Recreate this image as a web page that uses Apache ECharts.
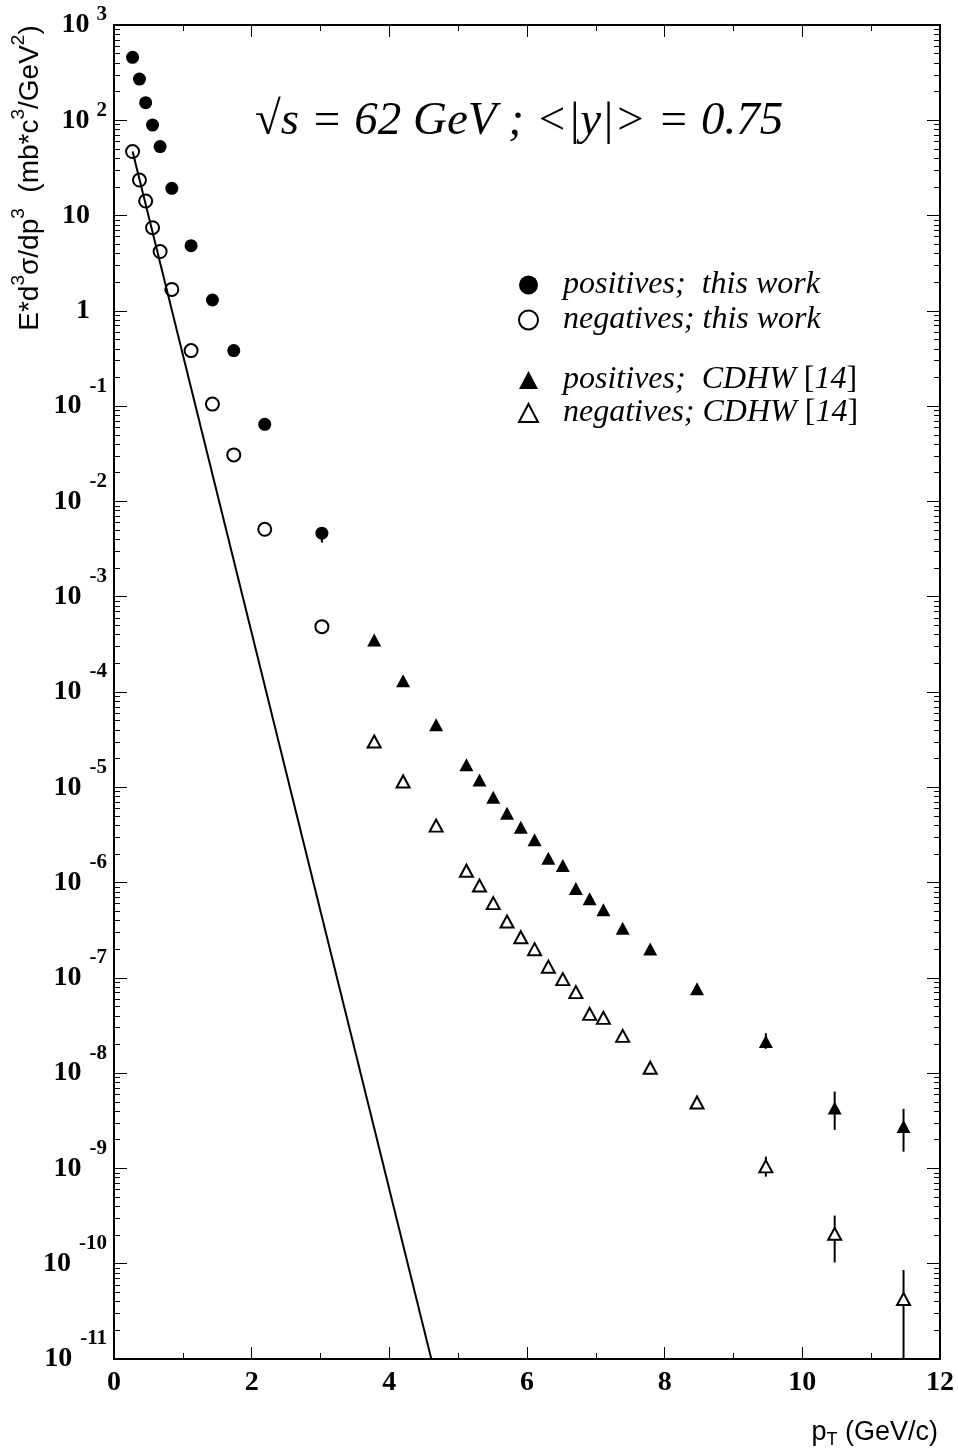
<!DOCTYPE html>
<html><head><meta charset="utf-8">
<script src="https://cdn.jsdelivr.net/npm/echarts@6/dist/echarts.min.js"></script>
<style>html,body{margin:0;padding:0;background:#fff}#c{width:958px;height:1453px}</style>
</head><body><div id="c"></div>
<script>
// ---- data ----
const ptThisWork  = [0.27, 0.37, 0.46, 0.56, 0.67, 0.84, 1.12, 1.43, 1.74, 2.19, 3.02];
const posThisWork = [458, 271, 153, 89, 53, 19.3, 4.83, 1.30, 0.383, 0.0645, 0.00464];
const negThisWork = [47, 23.6, 14.2, 7.46, 4.19, 1.68, 0.383, 0.105, 0.0308, 0.0051, 0.000485];

const ptCDHW  = [3.78, 4.20, 4.68, 5.12, 5.31, 5.51, 5.71, 5.91, 6.11, 6.31, 6.52, 6.71, 6.91, 7.11, 7.39, 7.79, 8.47, 9.47, 10.47, 11.47];
const posCDHW = [3.52e-4, 1.31e-4, 4.52e-5, 1.72e-5, 1.19e-5, 7.87e-6, 5.35e-6, 3.81e-6, 2.81e-6, 1.80e-6, 1.51e-6, 8.65e-7, 6.75e-7, 5.18e-7, 3.32e-7, 2.01e-7, 7.67e-8, 2.15e-8, 4.3e-9, 2.75e-9];
const negCDHW = [3.02e-5, 1.15e-5, 3.96e-6, 1.33e-6, 9.3e-7, 6.08e-7, 3.9e-7, 2.67e-7, 2.0e-7, 1.31e-7, 9.7e-8, 7.08e-8, 4.19e-8, 3.8e-8, 2.46e-8, 1.14e-8, 4.92e-9, 1.05e-9, 2.06e-10, 4.26e-11];

// error bars: x, low, high
const errX    = [3.02, 9.47, 10.47, 11.47, 9.47, 10.47, 11.47];
const errLow  = [3.7e-3, 1.8e-8, 2.54e-9, 1.50e-9, 8.2e-10, 1.03e-10, 1e-12];
const errHigh = [5.3e-3, 2.63e-8, 6.41e-9, 4.22e-9, 1.33e-9, 3.2e-10, 8.6e-11];

// exponential reference line (two end points)
const fitPt  = [0.27, 4.61];
const fitVal = [47, 1e-11];

// axis ticks
const decadeExponents = [-11, -10, -9, -8, -7, -6, -5, -4, -3, -2, -1, 0, 1, 2, 3];
const minorMultipliers = [2, 3, 4, 5, 6, 7, 8, 9];
const xTickLabels = ['0', '2', '4', '6', '8', '10', '12'];

const LBL = ['positives;  this work', 'negatives; this work', 'positives;  CDHW [14]', 'negatives; CDHW [14]'];

// ---- build ----
const zip = (a, b) => a.map((v, i) => [v, b[i]]);
const minorTickVals = [];
decadeExponents.slice(0, -1).forEach(e => minorMultipliers.forEach(m => minorTickVals.push(e + Math.log10(m))));
const errData = errX.map((x, i) => [x, errLow[i], errHigh[i]]);

const SERIF = 'Liberation Serif', SANS = 'Liberation Sans';
const yRich = {
  b: {fontFamily: SERIF, fontWeight: 'bold', fontSize: 28, color: '#000'},
  n: {fontFamily: SERIF, fontWeight: 'bold', fontSize: 28, color: '#000', padding: [0, 17, 0, 0]},
  p: {fontFamily: SERIF, fontWeight: 'bold', fontSize: 21, color: '#000', padding: [0, 0, 20, 7]},
  m: {fontFamily: SERIF, fontWeight: 'bold', fontSize: 21, color: '#000', padding: [0, 0, 40, 8]}
};
function yLabel(v) {
  const e = Math.round(v);
  if (e === 0) return '{n|1}';
  if (e === 1) return '{n|10}';
  return '{b|10}{' + (e > 0 ? 'p' : 'm') + '|' + e + '}';
}
const majorYAxis = (pos, show) => ({
  type: 'value', position: pos, min: decadeExponents[0], max: decadeExponents[decadeExponents.length - 1], interval: 1,
  axisLine: {show: true, onZero: false, lineStyle: {color: '#000', width: 2}},
  axisTick: {show: true, inside: true, length: 13, lineStyle: {color: '#000', width: 1}},
  axisLabel: {show: show, margin: 7, formatter: yLabel, rich: yRich},
  splitLine: {show: false}
});
const minorYAxis = (pos) => ({
  type: 'value', position: pos, min: decadeExponents[0], max: decadeExponents[decadeExponents.length - 1],
  axisLine: {show: false}, axisLabel: {show: false}, splitLine: {show: false},
  axisTick: {show: true, inside: true, length: 6, customValues: minorTickVals, lineStyle: {color: '#000', width: 1}}
});
const xAxisDef = (pos, show) => ({
  type: 'value', position: pos, min: 0, max: 12, interval: 2,
  axisLine: {show: true, onZero: false, lineStyle: {color: '#000', width: 2}},
  axisTick: {show: true, inside: true, length: 12, lineStyle: {color: '#000', width: 1}},
  minorTick: {show: true, splitNumber: 2, length: 6, lineStyle: {color: '#000', width: 1}},
  axisLabel: {show: show, margin: 10, fontFamily: SERIF, fontWeight: 'bold', fontSize: 28, color: '#000',
    formatter: v => xTickLabels[Math.round(v / 2)]},
  splitLine: {show: false}
});

const legendText = {fontFamily: SERIF, fontStyle: 'italic', fontSize: 32, color: '#000'};
const legendRich = {
  i: {fontFamily: SERIF, fontStyle: 'italic', fontSize: 32, color: '#000'},
  u: {fontFamily: SERIF, fontStyle: 'normal', fontSize: 32, color: '#000'}
};
function legendFmt(name) {
  const m = name.match(/^(.*)\[(\d+)\]$/);
  if (m) return '{i|' + m[1] + '}{u|[}{i|' + m[2] + '}{u|]}';
  return '{i|' + name + '}';
}

const option = {
  backgroundColor: '#fff',
  animation: false,
  grid: {left: 114, right: 18, top: 25, bottom: 94, containLabel: false, outerBoundsMode: 'none'},
  xAxis: [xAxisDef('bottom', true), xAxisDef('top', false)],
  yAxis: [
    {type: 'log', logBase: 10, min: 1e-11, max: 1e3, position: 'left',
     axisLine: {show: false}, axisTick: {show: false}, axisLabel: {show: false}, splitLine: {show: false}},
    majorYAxis('left', true), minorYAxis('left'), majorYAxis('right', false), minorYAxis('right')
  ],
  legend: [
    {orient: 'vertical', left: 518, top: 269, padding: 0, itemGap: 3, itemWidth: 19, itemHeight: 19, selectedMode: false,
     data: [
       {name: LBL[0], icon: 'circle', itemStyle: {color: '#000', borderWidth: 0}},
       {name: LBL[1], icon: 'circle', itemStyle: {color: 'rgba(0,0,0,0)', borderColor: '#000', borderWidth: 2}}
     ],
     formatter: legendFmt, textStyle: Object.assign({padding: [0, 0, 0, 20], rich: legendRich}, legendText)},
    {orient: 'vertical', left: 518, top: 364, padding: 0, itemGap: 1, itemWidth: 19, itemHeight: 18, selectedMode: false,
     data: [
       {name: LBL[2], icon: 'triangle', itemStyle: {color: '#000', borderWidth: 0}},
       {name: LBL[3], icon: 'triangle', itemStyle: {color: '#fff', borderColor: '#000', borderWidth: 2}}
     ],
     formatter: legendFmt, textStyle: Object.assign({padding: [0, 0, 0, 20], rich: legendRich}, legendText)}
  ],
  graphic: [
    {type: 'text', x: 255, y: 122, silent: true,
     style: {text: '{r|√}{i|s = 62 GeV ; <|y|> = 0.75}', align: 'left', verticalAlign: 'middle',
       rich: {r: {fontFamily: SERIF, fontSize: 47, color: '#000'},
              i: {fontFamily: SERIF, fontStyle: 'italic', fontSize: 47, color: '#000'}}}},
    {type: 'text', x: 30, y: 178, rotation: Math.PI / 2, silent: true,
     style: {text: '{t|E*d}{s|3}{t|σ/dp}{s|3}{t|  (mb*c}{s|3}{t|/GeV}{s|2}{t|)}', align: 'center', verticalAlign: 'middle',
       rich: {t: {fontFamily: SANS, fontSize: 28, color: '#000'},
              s: {fontFamily: SANS, fontSize: 19, color: '#000', padding: [0, 0, 22, 0]}}}},
    {type: 'text', x: 938, y: 1433, silent: true,
     style: {text: '{t|p}{s|T}{t| (GeV/c)}', align: 'right', verticalAlign: 'middle',
       rich: {t: {fontFamily: SANS, fontSize: 27, color: '#000'},
              s: {fontFamily: SANS, fontSize: 18, color: '#000', padding: [15, 0, 0, 0]}}}}
  ],
  series: [
    {type: 'custom', name: 'errors', xAxisIndex: 0, yAxisIndex: 0, z: 2, silent: true,
     data: errData, encode: {x: 0, y: [1, 2]},
     renderItem: function (params, api) {
       const x = api.value(0);
       const p1 = api.coord([x, api.value(1)]);
       const p2 = api.coord([x, api.value(2)]);
       const cs = params.coordSys;
       const yb = Math.min(p1[1], cs.y + cs.height);
       return {type: 'line', shape: {x1: p1[0], y1: yb, x2: p2[0], y2: p2[1]},
               style: {stroke: '#000', lineWidth: 2}};
     }},
    {type: 'line', name: 'fit', xAxisIndex: 0, yAxisIndex: 0, data: zip(fitPt, fitVal), symbol: 'none',
     lineStyle: {color: '#000', width: 2}, z: 6, silent: true},
    {type: 'scatter', name: LBL[0], xAxisIndex: 0, yAxisIndex: 0, data: zip(ptThisWork, posThisWork),
     symbol: 'circle', symbolSize: 13, itemStyle: {color: '#000', opacity: 1}, z: 5},
    {type: 'scatter', name: LBL[1], xAxisIndex: 0, yAxisIndex: 0, data: zip(ptThisWork, negThisWork),
     symbol: 'circle', symbolSize: 13, itemStyle: {color: 'rgba(0,0,0,0)', borderColor: '#000', borderWidth: 2, opacity: 1}, z: 5},
    {type: 'scatter', name: LBL[2], xAxisIndex: 0, yAxisIndex: 0, data: zip(ptCDHW, posCDHW),
     symbol: 'triangle', symbolSize: [14, 13], itemStyle: {color: '#000', opacity: 1}, z: 5},
    {type: 'scatter', name: LBL[3], xAxisIndex: 0, yAxisIndex: 0, data: zip(ptCDHW, negCDHW),
     symbol: 'triangle', symbolSize: [13, 12], itemStyle: {color: '#fff', borderColor: '#000', borderWidth: 2, opacity: 1}, z: 5}
  ]
};
const chart = echarts.init(document.getElementById('c'), null, {renderer: 'canvas'});
chart.setOption(option);
</script></body></html>
